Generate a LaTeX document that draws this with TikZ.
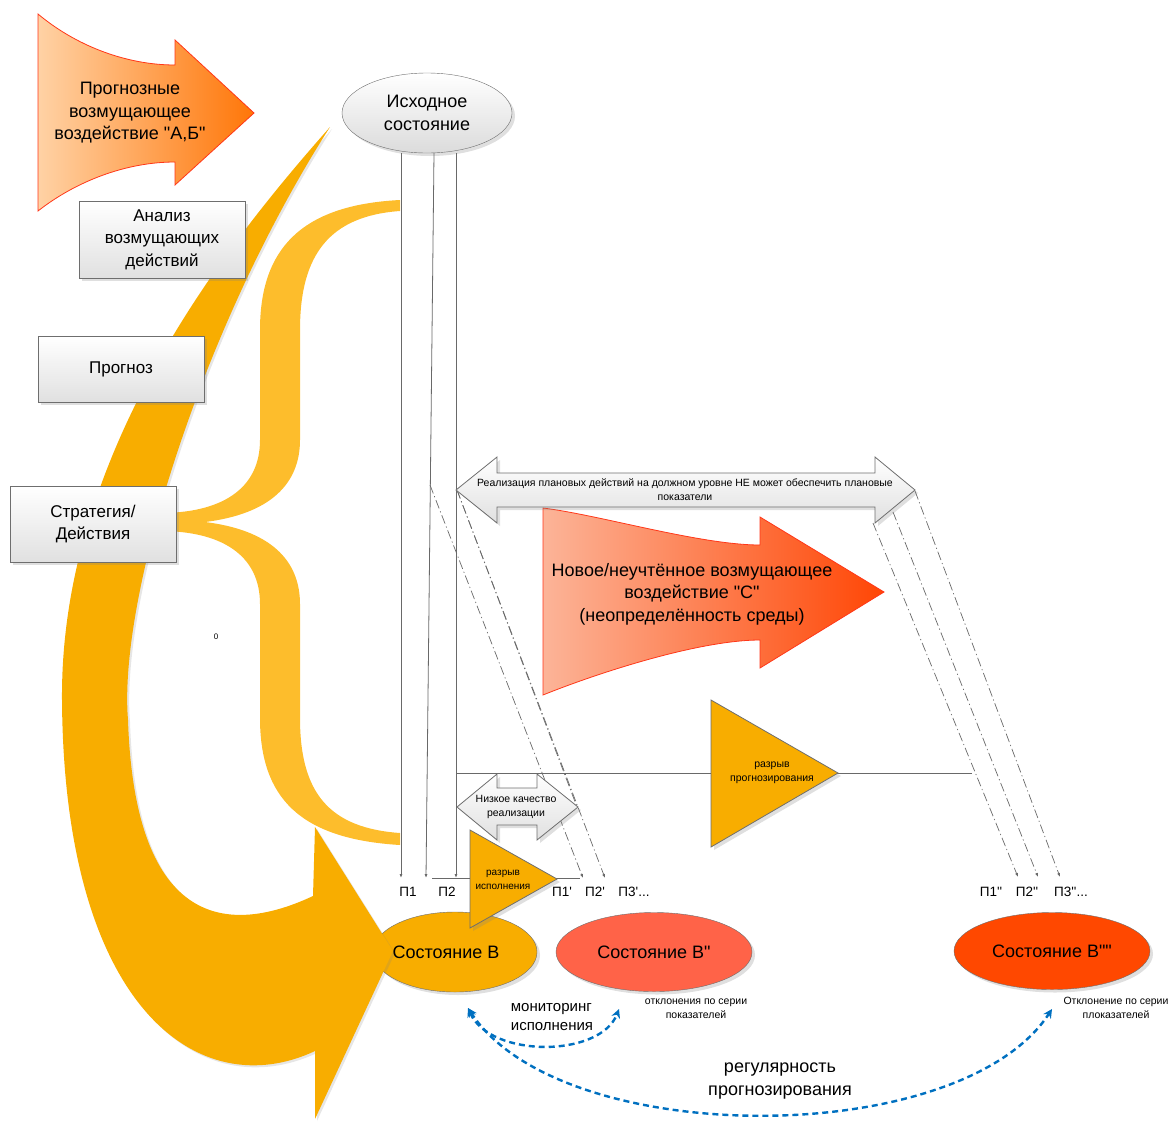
\documentclass[tikz,border=0pt]{standalone}
\usepackage{fontspec}
\setmainfont{Liberation Sans}[Ligatures=TeXOff]
\usetikzlibrary{arrows.meta,shapes.geometric,shadows}
\definecolor{bigY}{RGB}{248,173,0}
\definecolor{braceY}{RGB}{253,189,44}
\definecolor{lineG}{RGB}{105,105,105}
\definecolor{boxB}{RGB}{110,110,110}
\definecolor{tomatoC}{RGB}{255,99,72}
\definecolor{redC}{RGB}{255,72,0}
\definecolor{blueC}{RGB}{0,112,192}
\definecolor{peach}{RGB}{255,210,165}
\definecolor{orngA}{RGB}{255,118,8}
\definecolor{salmonC}{RGB}{252,180,152}
\definecolor{redA}{RGB}{255,70,5}
\definecolor{edgeR}{RGB}{255,55,25}
\begin{document}
\begin{tikzpicture}[x=1pt,y=-1pt,
  every node/.style={inner sep=0pt,align=center},
  f18/.style={font=\fontsize{18}{22.5}\selectfont},
  f17/.style={font=\fontsize{17}{22.5}\selectfont},
  f15/.style={font=\fontsize{15}{19}\selectfont},
  f13/.style={font=\fontsize{13.5}{16}\selectfont},
  f10/.style={font=\fontsize{10.5}{14}\selectfont},
  shad/.style={drop shadow={shadow xshift=3pt,shadow yshift=-3pt,opacity=0.25}},
  greybox/.style={draw=boxB,top color=white,bottom color=black!12,shad,f17,minimum width=166pt},
  greyell/.style={ellipse,draw=boxB,top color=white,bottom color=black!14,shad,f18},
  stell/.style={ellipse,draw=boxB,shad,f18},
  conn/.style={draw=lineG,line width=0.8pt},
  tip/.style={-{Latex[length=4pt,width=3pt]}},
  dd/.style={draw=lineG,line width=0.7pt,dash pattern=on 9pt off 3pt on 1.2pt off 3pt},
  blu/.style={draw=blueC,line width=2.4pt,dash pattern=on 6pt off 4pt,{Stealth[length=9pt,width=9pt]}-{Stealth[length=9pt,width=9pt]}},
  lbl/.style={f13}
]
\useasboundingbox (0,0) rectangle (1169,1122);

% state B ellipse body (under the big arrow)
\node[stell,fill=bigY,minimum width=164pt,minimum height=80pt] (sb) at (455,952) {};

% big curved arrow
\fill[bigY,drop shadow={shadow xshift=2pt,shadow yshift=-2pt,opacity=0.2}]
  (330,127) .. controls (230,240) and (60,450) .. (62,700)
  .. controls (64,1010) and (200,1105) .. (315,1051)
  -- (315,1119) -- (393,951) -- (315,827) -- (313,896)
  .. controls (230,935) and (135,930) .. (128,720)
  .. controls (118,600) and (200,330) .. (330,127) -- cycle;

% brace
\fill[braceY]
  (400,200) .. controls (300,205) and (260,250) .. (260,330)
  -- (260,440) .. controls (260,490) and (220,513) .. (160,513)
  -- (160,531) .. controls (220,531) and (260,554) .. (260,604)
  -- (260,718) .. controls (260,798) and (300,839) .. (400,845)
  -- (400,833) .. controls (330,828) and (300,794) .. (300,718)
  -- (300,604) .. controls (300,560) and (270,530) .. (205,522)
  .. controls (270,514) and (300,484) .. (300,440)
  -- (300,330) .. controls (300,254) and (330,216) .. (400,211) -- cycle;

% left boxes
\node[greybox,minimum height=77pt] (an) at (162,239.5) {Анализ\\возмущающих\\действий};
\node[greybox,minimum height=66pt] (pr) at (121,369) {Прогноз};
\node[greybox,minimum height=76pt] (st) at (93,524) {Стратегия/\\Действия};
\node[font=\fontsize{8}{9}\selectfont] (zero) at (216,637) {0};

% top-left arrow
\path[shade,left color=peach,right color=orngA,draw=edgeR,line width=0.8pt]
  (38,14) .. controls (75,45) and (125,65) .. (175,65)
  -- (175,40) -- (254,113) -- (175,185) -- (175,162)
  .. controls (125,162) and (75,182) .. (38,211) -- cycle;
\node[f18] (ab) at (130,113) {Прогнозные\\возмущающее\\воздействие "А,Б"};

% initial state
\node[greyell,minimum width=170pt,minimum height=80pt] (src) at (427,113) {Исходное\\состояние};

% coordinates
\coordinate (a0) at (401,153);
\coordinate (a1) at (401,878);
\coordinate (b0) at (434,153);
\coordinate (b1) at (426,878);
\coordinate (c0) at (456,153);
\coordinate (c1) at (456,878);
\coordinate (h0) at (432,878);
\coordinate (h1) at (580,878);
\coordinate (m0) at (456,773);
\coordinate (m1) at (972,773);

% big red arrow
\path[shade,left color=salmonC,right color=redA,draw=edgeR,line width=0.8pt]
  (543,508) .. controls (600,515) and (700,545) .. (760,545)
  -- (760,517) -- (884,592) -- (760,668) -- (760,640)
  .. controls (700,640) and (600,672) .. (543,695) -- cycle;
\node[f18] (nc) at (692,594) {Новое/неучтённое возмущающее\\воздействие "С"\\(неопределённость среды)};

% vertical lines
\draw[conn,tip] (a0) -- (a1);
\draw[conn,tip] (b0) -- (b1);
\draw[conn,tip] (c0) -- (c1);
\draw[conn] (h0) -- (h1);
\draw[conn] (m0) -- (m1);

% dash-dot lines (left group)
\coordinate (d1s) at (430,485);
\coordinate (d1e) at (583,878);
\coordinate (d2s) at (457,490);
\coordinate (d2e) at (605,878);
\draw[dd,tip] (d1s) -- (d1e);
\draw[dd,tip] (d2s) -- (d2e);
\draw[dd] (d2s) -- (577,807);
% right group
\coordinate (r1s) at (873,523);
\coordinate (r1e) at (1018,877);
\coordinate (r2s) at (893,512);
\coordinate (r2e) at (1038,877);
\coordinate (r3s) at (915,491);
\coordinate (r3e) at (1060,877);
\draw[dd,tip] (r1s) -- (r1e);
\draw[dd,tip] (r2s) -- (r2e);
\draw[dd,tip] (r3s) -- (r3e);

% upper double arrow
\path[draw=boxB,top color=white,bottom color=black!12,line width=0.8pt,shad]
  (456,490) -- (497,457) -- (497,473) -- (875,473) -- (875,457) -- (915,490)
  -- (875,523) -- (875,507) -- (497,507) -- (497,523) -- cycle;
\node[f10] (real) at (685,490) {Реализация плановых действий на должном уровне НЕ может обеспечить плановые\\показатели};

% small double arrow
\path[draw=boxB,top color=white,bottom color=black!12,line width=0.8pt,shad]
  (457,807) -- (497,774) -- (497,788) -- (537,788) -- (537,774) -- (578,807)
  -- (537,840) -- (537,825) -- (497,825) -- (497,840) -- cycle;
\node[f10] (lq) at (516,807) {Низкое качество\\реализации};

% forecasting gap triangle
\path[draw=boxB,fill=bigY,line width=0.8pt,shad] (711,700) -- (838,773) -- (711,847) -- cycle;
\node[f10] (gp) at (772,773) {разрыв\\прогнозирования};

% other states
\node[stell,fill=tomatoC,minimum width=196pt,minimum height=79pt] (sb2) at (654,952) {Состояние В"};
\node[stell,fill=redC,minimum width=196pt,minimum height=77pt] (sb3) at (1052,951) {Состояние В""};
\node[f18] (sbt) at (446,952) {Состояние В};

% execution gap triangle
\path[draw=boxB,fill=bigY,line width=0.8pt,shad] (470,830) -- (557,879) -- (470,928) -- cycle;
\node[font=\fontsize{10}{13.5}\selectfont] (ge) at (503,880) {разрыв\\исполнения};

% P labels
\node[lbl] (p1) at (408,892) {П1};
\node[lbl] (p2) at (447,892) {П2};
\node[lbl] (p1a) at (562,892) {П1'};
\node[lbl] (p2a) at (595,892) {П2'};
\node[lbl] (p3a) at (634,892) {П3'...};
\node[lbl] (p1b) at (991,892) {П1''};
\node[lbl] (p2b) at (1027,892) {П2''};
\node[lbl] (p3b) at (1071,892) {П3''...};

% notes
\node[f10] (n1) at (696,1009) {отклонения по серии\\показателей};
\node[f10] (n2) at (1116,1008) {Отклонение по серии\\плоказателей};

% blue arcs
\coordinate (u0) at (468,1008);
\coordinate (u1) at (619,1009);
\coordinate (u2) at (1052,1009);
\draw[blu] (u0) .. controls (490,1058) and (600,1058) .. (u1);
\draw[blu] (u0) .. controls (560,1150) and (960,1150) .. (u2);
\node[f15,align=left] (mon) at (552,1017) {мониторинг\\исполнения};
\node[f18] (reg) at (780,1081) {регулярность\\прогнозирования};
\end{tikzpicture}
\end{document}
